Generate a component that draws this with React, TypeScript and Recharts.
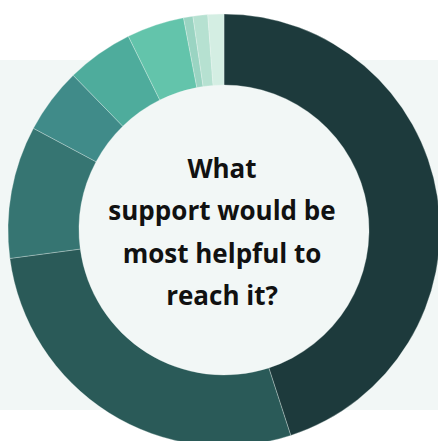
import { PieChart, Pie, Cell } from 'recharts'

// ── Data ─────────────────────────────────────────────────────────────────────

const ANSWERS = ['a1', 'a2', 'a3', 'a4', 'a5', 'a6', 'a7', 'a8', 'a9']
const SHARES  = [45, 27.9, 9.9, 4.9, 5.0, 4.3, 0.7, 1.1, 1.2]
const COLORS  = ['#1d3a3c', '#2a5a58', '#367572', '#408b89', '#4eac9c', '#63c4ab', '#9ad4c2', '#b6e1d1', '#d4eee3']
const TITLE_LINES = ['What', 'support would be', 'most helpful to', 'reach it?']

const BG = '#f2f7f6'
const W = 438
const H = 441
const CX = 224
const CY = 230

export default function App() {
  const rows = ANSWERS.map((name, i) => ({ name, value: SHARES[i] }))
  return (
    <div style={{ position: 'absolute', left: 0, top: 0, width: W, height: H, background: '#fff', overflow: 'hidden' }}>
      <div style={{ position: 'absolute', left: 0, top: 60, width: W, height: 350, background: BG }} />
      <div style={{ position: 'absolute', left: 0, top: 0 }}>
        <PieChart width={W} height={H} margin={{ top: 0, right: 0, bottom: 0, left: 0 }}>
          <Pie data={[{ name: 'hole', value: 1 }]} dataKey="value" cx={CX} cy={CY}
            outerRadius={146} innerRadius={0} fill={BG} stroke="none" isAnimationActive={false} />
          <Pie data={rows} dataKey="value" nameKey="name" cx={CX} cy={CY}
            innerRadius={145} outerRadius={216} startAngle={90} endAngle={-270}
            stroke={BG} strokeWidth={0.3} isAnimationActive={false}>
            {rows.map((_, i) => <Cell key={i} fill={COLORS[i]} />)}
          </Pie>
        </PieChart>
      </div>
      {/* centre title, overlaid on the hole */}
      <svg width={W} height={H} style={{ position: 'absolute', left: 0, top: 0, pointerEvents: 'none' }}>
        <text x={222} y={178} textAnchor="middle" fontFamily="'Open Sans', sans-serif"
          fontWeight={700} fontSize={26} fill="#111">
          {TITLE_LINES.map((line, i) => (
            <tspan key={i} x={222} y={178 + i * 42.4}>{line}</tspan>
          ))}
        </text>
      </svg>
    </div>
  )
}
